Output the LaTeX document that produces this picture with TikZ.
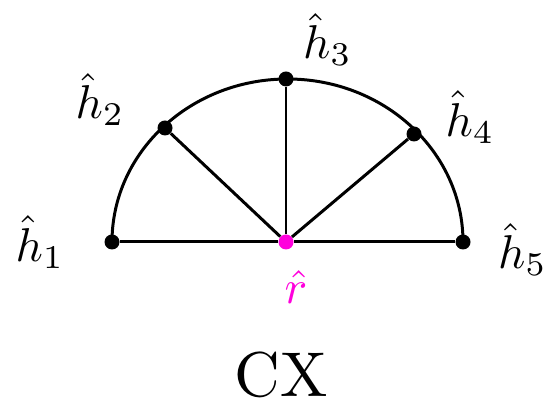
\documentclass[tikz,border=0pt]{standalone}
\usepackage{amsmath}
\usepackage{amssymb}
\usepackage{tikz}
\definecolor{hotpink}{RGB}{255,0,220}

\begin{document}
\begin{tikzpicture}[scale=1]
\useasboundingbox (0,0) rectangle (11.12,8.24);
\begin{scope}[every node/.style={circle,fill=black,inner sep=0pt,minimum size=0.3cm}]
\node (H1) at (2.24,3.40) {};
\node (H2) at (3.30,5.68) {};
\node (H3) at (5.72,6.66) {};
\node (H4) at (8.28,5.56) {};
\node (H5) at (9.26,3.40) {};
\node[fill=hotpink] (R) at (5.72,3.40) {};
\end{scope}
\draw [line width=1.7pt] (H1.center) arc[start angle=180, end angle=0, x radius=3.51cm, y radius=3.26cm];
\draw [line width=1.7pt] (H1) -- (R);
\draw [line width=1.7pt] (R) -- (H5);
\draw [line width=1.7pt] (R) -- (H2);
\draw [line width=1.7pt] (R) -- (H3);
\draw [line width=1.7pt] (R) -- (H4);
\begin{scope}[every node/.style={scale=2.7,inner sep=0pt}]
\node (L1) at (0.80,3.40) {$\hat{h}_1$};
\node (L2) at (2.00,6.25) {$\hat{h}_2$};
\node (L3) at (6.55,7.45) {$\hat{h}_3$};
\node (L4) at (9.40,5.90) {$\hat{h}_4$};
\node (L5) at (10.45,3.25) {$\hat{h}_5$};
\node[text=hotpink] (LR) at (5.92,2.50) {$\hat{r}$};
\end{scope}
\node[scale=3.6,inner sep=0pt] (CX) at (5.62,0.75) {CX};
\end{tikzpicture}
\end{document}
